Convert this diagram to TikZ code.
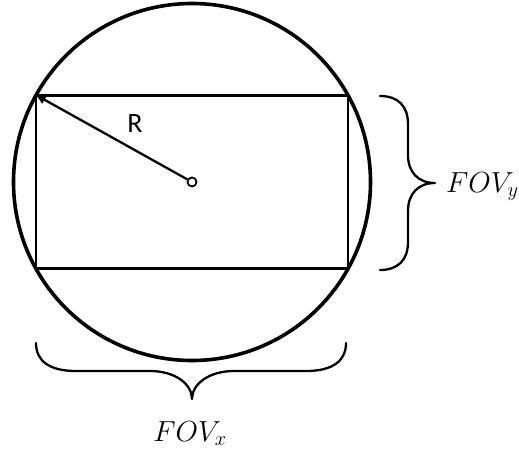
\RequirePackage{fix-cm}
\documentclass[tikz,border=0pt]{standalone}
\usepackage{fontspec}
\newfontfamily\rfont{Carlito}
\usetikzlibrary{arrows.meta}
\begin{document}
\begin{tikzpicture}[x=1pt,y=-1pt,
  ln/.style={line width=2.3pt},
  brc/.style={line width=2.3pt,line cap=round,line join=round},
  lbl/.style={inner sep=0pt,font=\fontsize{29}{33}\selectfont}]
\useasboundingbox (0,0) rectangle (519,452);
\coordinate (c) at (192,182);
\node[draw,circle,line width=3.6pt,minimum size=357pt,inner sep=0pt] (circ) at (c) {};
\node[draw,ln,minimum width=312pt,minimum height=173pt,inner sep=0pt] (rect) at (c) {};
\node[draw,circle,line width=1.8pt,minimum size=9pt,inner sep=0pt,fill=white] (ctr) at (c) {};
\draw[ln,-{Latex[length=11pt,width=10pt]}] (ctr) -- (rect.north west);
\node[inner sep=0pt,font=\rfont\fontsize{28}{30}\selectfont] (R) at (135,124) {R};
% right brace
\coordinate (rb1) at (380,96);
\coordinate (rbt) at (435,183);
\coordinate (rb2) at (380,270);
\draw[brc] (rb1) .. controls (398,96) and (408,106) .. (408,124) -- (408,155)
  .. controls (408,172) and (418,183) .. (rbt)
  .. controls (418,183) and (408,194) .. (408,211) -- (408,242)
  .. controls (408,260) and (398,270) .. (rb2);
% bottom brace
\coordinate (bb1) at (36,343);
\coordinate (bbt) at (192,399);
\coordinate (bb2) at (346,343);
\draw[brc] (bb1) .. controls (36,360) and (48,371) .. (76,371) -- (150,371)
  .. controls (175,371) and (192,384) .. (bbt)
  .. controls (192,384) and (209,371) .. (234,371) -- (306,371)
  .. controls (334,371) and (346,360) .. (bb2);
\node[lbl,anchor=base west] (fy) at (446,192) {$FOV_y$};
\node[lbl,anchor=base] (fx) at (190,441) {$FOV_x$};
\end{tikzpicture}
\end{document}
